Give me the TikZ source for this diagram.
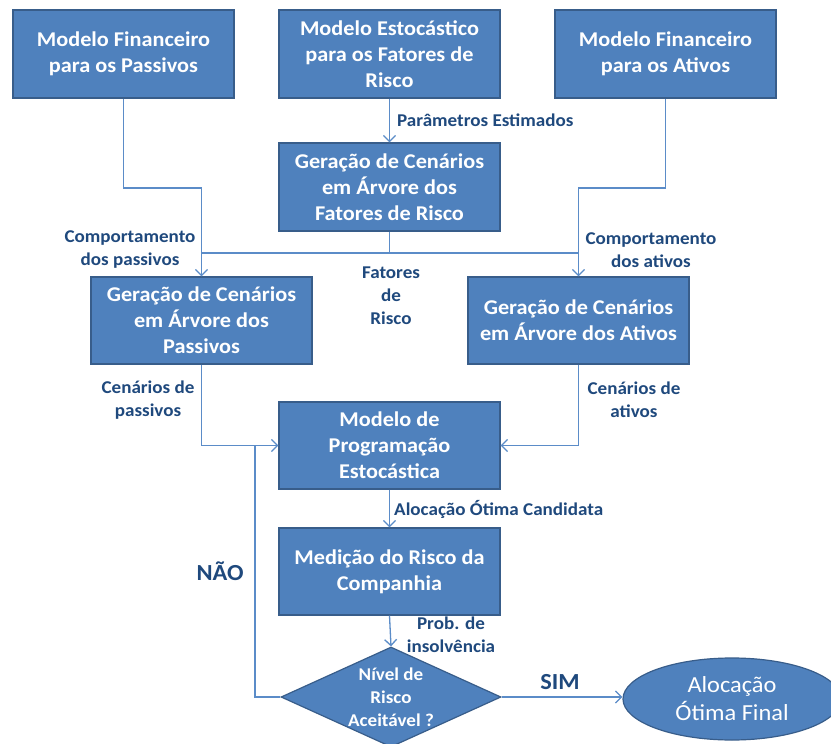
\documentclass[tikz,border=0pt]{standalone}
\usepackage{fontspec}
\setmainfont{Carlito}[FakeStretch=1.06]
\usetikzlibrary{shapes.geometric,arrows.meta}
\definecolor{boxfill}{HTML}{4F81BD}
\definecolor{boxline}{HTML}{385D8A}
\definecolor{connc}{HTML}{5B8CC8}
\definecolor{lbl}{HTML}{1F497D}
\begin{document}
\begin{tikzpicture}[x=1pt,y=-1pt,
  box/.style={draw=boxline, line width=1.2pt, fill=boxfill, text=white,
    font=\fontsize{21}{26}\selectfont\bfseries, align=center,
    minimum width=221pt, minimum height=88pt, inner sep=2pt},
  conn/.style={draw=connc, line width=1.3pt},
  arr/.style={conn, -{Straight Barb[length=6pt,width=12pt]}},
  lab/.style={text=lbl, font=\fontsize{18}{23}\selectfont\bfseries, align=center, inner sep=0pt},
  big/.style={text=lbl, font=\fontsize{23}{28}\selectfont\bfseries, inner sep=0pt},
]
\useasboundingbox (0,0) rectangle (831,744);
\fill[white] (0,0) rectangle (831,744);

\node[box] (A) at (123.5,54) {Modelo Financeiro\\para os Passivos};
\node[box] (B) at (389.5,54) {Modelo Estocástico\\para os Fatores de\\Risco};
\node[box] (C) at (665.5,54) {Modelo Financeiro\\para os Ativos};
\node[box] (D) at (389.5,187) {Geração de Cenários\\em Árvore dos\\Fatores de Risco};
\node[box, minimum height=87pt] (E) at (201.5,320.5) {Geração de Cenários\\em Árvore dos\\Passivos};
\node[box, minimum height=87pt] (F) at (578.5,320.5) {Geração de Cenários\\em Árvore dos Ativos};
\node[box, minimum height=87pt] (G) at (389.5,445.5) {Modelo de\\Programação\\Estocástica};
\node[box, minimum height=87pt] (H) at (389.5,571.5) {Medição do Risco da\\Companhia};
\node[diamond, draw=boxline, line width=1.2pt, fill=boxfill, minimum width=220pt,
  minimum height=100pt, inner sep=0pt] (K) at (391,697) {};
\node[text=white, font=\fontsize{18}{23}\selectfont\bfseries, align=center] (Kt) at (K.center) {Nível de\\Risco\\Aceitável ?};
\node[ellipse, draw=boxline, line width=1.2pt, fill=boxfill, minimum width=218pt, minimum height=82pt,
  text=white, font=\fontsize{23}{28}\selectfont, align=center, inner sep=0pt] (L) at (732,699) {Alocação\\Ótima Final};

% connectors
\coordinate (ja) at (201.5,188);
\coordinate (jc) at (578.5,188);
\coordinate (bus) at (389.5,253);
\coordinate (loop) at (255,445.5);
\draw[arr] (B.south) -- (D.north);
\draw[arr] (A.south) |- (ja) -- (E.north);
\draw[arr] (C.south) |- (jc) -- (F.north);
\draw[conn] (D.south) -- (bus);
\draw[conn] (ja |- bus) -- (jc |- bus);
\draw[arr] (E.south) |- (G.west);
\draw[arr] (F.south) |- (G.east);
\draw[arr] (G.south) -- (H.north);
\draw[arr] (H.south) -- (K.north);
\draw[conn] (K.west) -| (loop);
\draw[arr] (K.east) -- (K.east -| L.west);

% labels
\node[lab, anchor=west] (l1) at (397,120) {Parâmetros Estimados};
\node[lab] (l2) at (130,250) {Comportamento\\dos passivos};
\node[lab] (l3) at (651,250) {Comportamento\\dos ativos};
\node[lab] (l4) at (391,296) {Fatores\\de\\Risco};
\node[lab] (l5) at (148,400) {Cenários de\\passivos};
\node[lab] (l6) at (634,400) {Cenários de\\ativos};
\node[lab, anchor=west] (l7) at (394,509) {Alocação Ótima Candidata};
\node[lab] (l8) at (451,635) {Prob. de\\insolvência};
\node[big] (nao) at (220,571) {NÃO};
\node[big] (sim) at (560,682) {SIM};
\end{tikzpicture}
\end{document}
